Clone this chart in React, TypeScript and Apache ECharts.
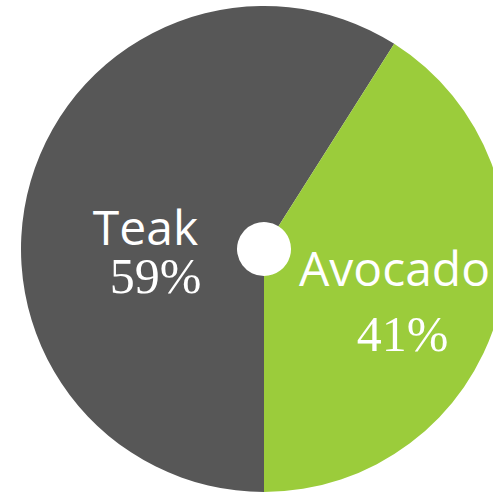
import React, { useEffect, useRef } from "react";
import * as echarts from "echarts";

const categories = ["Teak", "Avocado"];
const values = [59, 41];
const colors = ["#575757", "#9BCC3B"];

export default function App() {
  const ref = useRef<HTMLDivElement>(null);
  useEffect(() => {
    if (!ref.current) return;
    const chart = echarts.init(ref.current, null, { renderer: "svg" });
    const total = values.reduce((a, b) => a + b, 0);
    const labelCfg = [
      { offset: [14, 41], nLH: 50, pLH: 50, pPad: 20 },
      { offset: [-2, 13], nLH: 66, pLH: 66, pPad: 16 },
    ];
    const data = categories.map((name, i) => ({
      name,
      value: values[i],
      itemStyle: { color: colors[i] },
      label: {
        show: true,
        position: "inside",
        offset: labelCfg[i].offset,
        formatter: (p: any) =>
          `{n|${p.name}}\n{p|${Math.round((p.value / total) * 100)}%}`,
        rich: {
          n: {
            fontFamily: "Open Sans",
            fontSize: 48,
            color: "#ffffff",
            lineHeight: labelCfg[i].nLH,
            align: "center",
          },
          p: {
            fontFamily: "'Liberation Serif', 'DejaVu Serif', serif",
            fontSize: 50,
            color: "#ffffff",
            lineHeight: labelCfg[i].pLH,
            align: "center",
            padding: [0, 0, 0, labelCfg[i].pPad],
          },
        },
      },
    }));
    chart.setOption({
      animation: false,
      series: [
        {
          type: "pie",
          center: [264, 249],
          radius: [27, 243],
          startAngle: 270,
          clockwise: true,
          avoidLabelOverlap: false,
          labelLine: { show: false },
          itemStyle: { borderWidth: 0 },
          emphasis: { disabled: true },
          data,
        },
      ],
    });
    return () => chart.dispose();
  }, []);
  return (
    <div
      ref={ref}
      style={{ position: "fixed", left: 0, top: 0, width: 493, height: 492, background: "#fff" }}
    />
  );
}
